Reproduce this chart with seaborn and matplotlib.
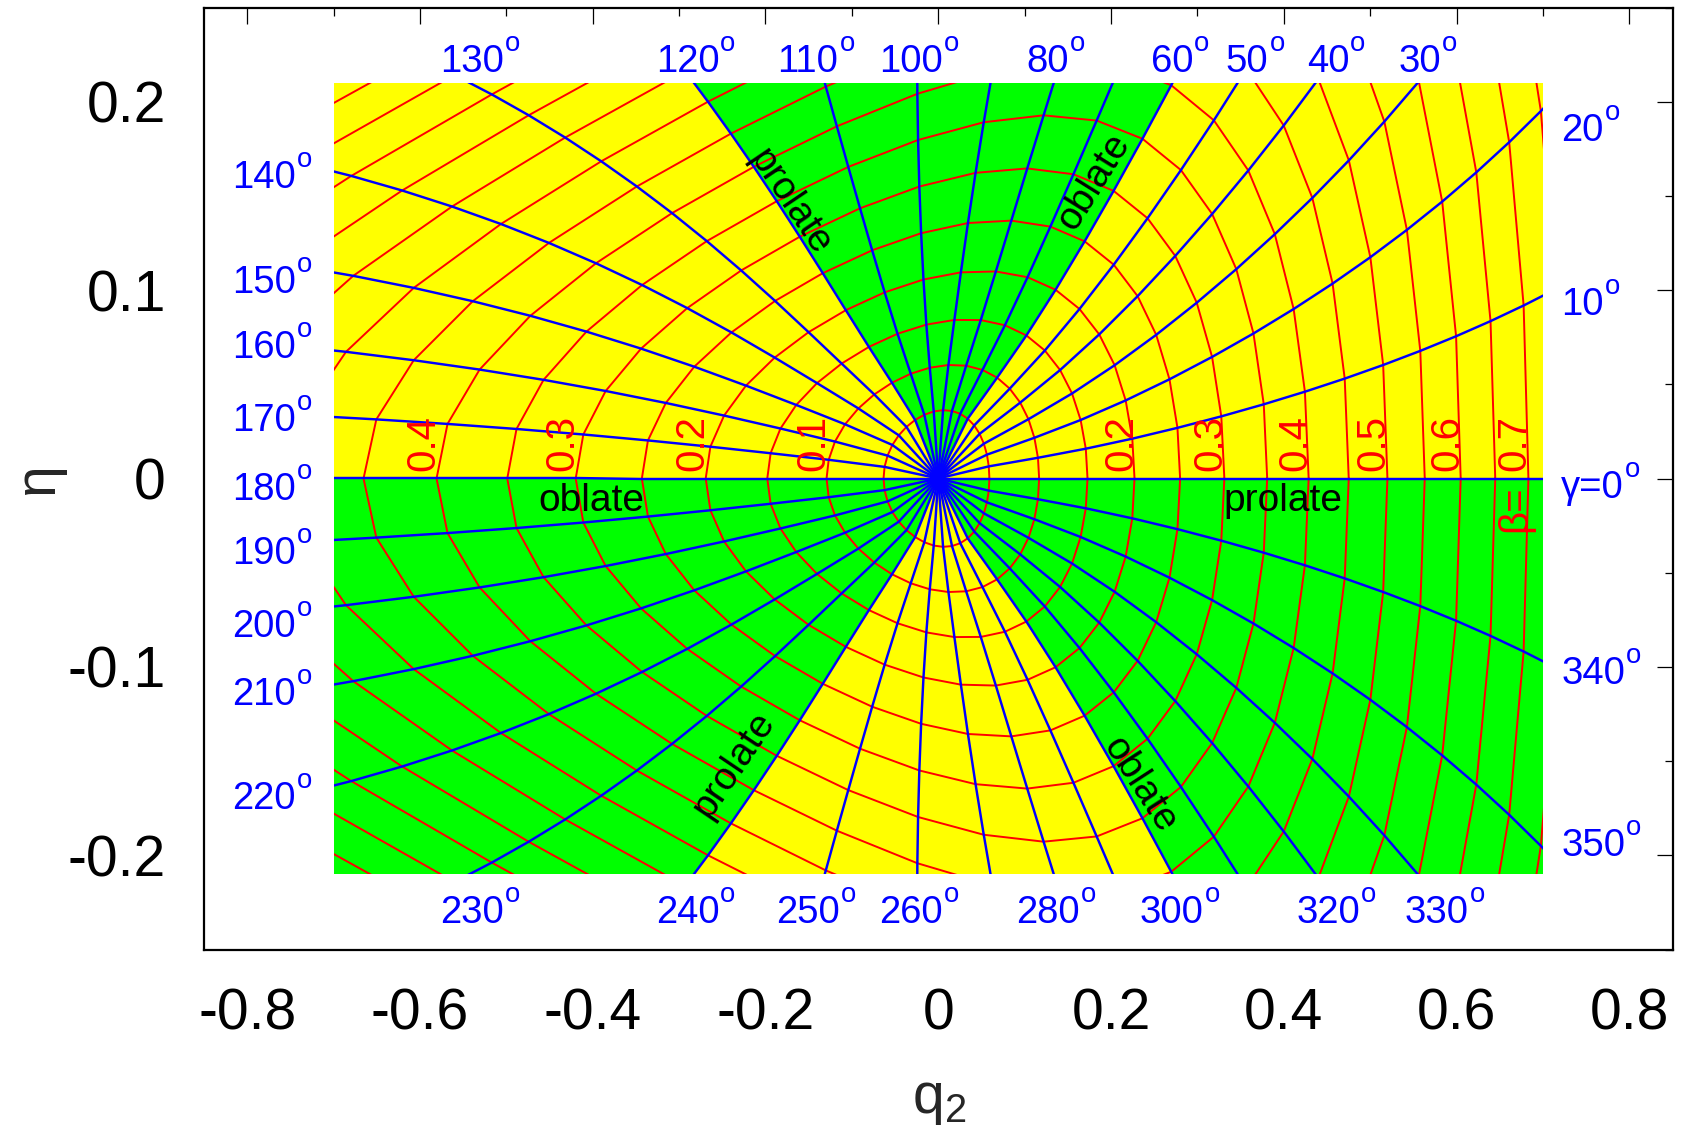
import numpy as np
import pandas as pd
import matplotlib
matplotlib.use("Agg")
import matplotlib.pyplot as plt
from matplotlib.patches import Rectangle, Polygon
import seaborn as sns

# ---------------- data ----------------
# Bohr deformation grid: beta every 0.05, gamma every 10 degrees
beta_levels = [0.05, 0.10, 0.15, 0.20, 0.25, 0.30, 0.35, 0.40,
               0.45, 0.50, 0.55, 0.60, 0.65, 0.70, 0.75]
gamma_levels = list(range(0, 360, 10))

# (beta, gamma) -> (q2, eta) correspondence
# q2 = beta * [c0 + c1 cos g + c2 cos 2g + beta (s0 + s1 cos g + s2 cos 2g + s3 cos 3g)]
q2_const = [0.0425, 1.22, -0.0625]
q2_slope = [-0.1475, 0.06, -0.2775, 0.045]
# eta = beta sin g [e0 + e1 beta cos g + e2 exp(-beta / e3)]
eta_coef = [0.54, 0.3125, 0.55, 0.046]

# gamma sectors shaded green
green_sectors = [(60, 120), (180, 240), (300, 360)]

# window of the map
q2_window = (-0.70, 0.70)
eta_window = (-0.21, 0.21)

# beta values written on the eta = 0 line
beta_labels_left = [0.1, 0.2, 0.3, 0.4]             # oblate side (gamma = 180)
beta_labels_right = [0.2, 0.3, 0.4, 0.5, 0.6, 0.7]  # prolate side (gamma = 0)

# gamma labels (text, q2 or eta of the label)
gamma_top = [("130", -0.5396), ("120", -0.2903), ("110", -0.1508), ("100", -0.0311),
             ("80", 0.1271), ("60", 0.2705), ("50", 0.3576), ("40", 0.4512), ("30", 0.5571)]
gamma_bottom = [("230", -0.5396), ("240", -0.2903), ("250", -0.1508), ("260", -0.0311),
                ("280", 0.1271), ("300", 0.2705), ("320", 0.4512), ("330", 0.577)]
gamma_left = [("140", 0.1612), ("150", 0.1058), ("160", 0.0712), ("170", 0.0325),
              ("180", -0.004), ("190", -0.0382), ("200", -0.0769), ("210", -0.1128),
              ("220", -0.1681)]
gamma_right = [("20", 0.1863), ("10", 0.094), ("\u03b3=0", -0.003), ("340", -0.1016),
               ("350", -0.1931)]

# shape names: (text, q2, eta, rotation)
shape_words = [("oblate", -0.4018, -0.0120, 0), ("prolate", 0.3994, -0.0120, 0),
               ("prolate", -0.172, 0.1464, -56), ("oblate", 0.1802, 0.1573, 58),
               ("prolate", -0.2368, -0.1521, 56), ("oblate", 0.2331, -0.1629, -57)]


def deform_to_q2eta(beta, gamma_deg):
    b = np.asarray(beta, dtype=float)
    g = np.radians(gamma_deg)
    c1, c2, c3 = np.cos(g), np.cos(2 * g), np.cos(3 * g)
    Q = (q2_const[0] + q2_const[1] * c1 + q2_const[2] * c2
         + b * (q2_slope[0] + q2_slope[1] * c1 + q2_slope[2] * c2 + q2_slope[3] * c3))
    E = eta_coef[0] + eta_coef[1] * b * c1 + eta_coef[2] * np.exp(-b / eta_coef[3])
    return b * Q, b * np.sin(g) * E


# ---------------- style ----------------
sns.set_theme(style="white")
plt.rcParams["font.family"] = ["Liberation Sans", "DejaVu Sans"]
plt.rcParams["axes.unicode_minus"] = False
plt.rcParams["mathtext.fontset"] = "custom"
plt.rcParams["mathtext.rm"] = "Liberation Sans"
plt.rcParams["mathtext.it"] = "Liberation Sans"

RED, BLUE, YELLOW, GREEN = "#ff0000", "#0000ff", "#ffff00", "#00ff00"
W, H = 1686, 1134
fig = plt.figure(figsize=(W / 100, H / 100), dpi=100)
ax = fig.add_axes([204 / W, 1 - 949.5 / H, 1468.5 / W, 942 / H])

clip = Rectangle((q2_window[0], eta_window[0]), q2_window[1] - q2_window[0],
                 eta_window[1] - eta_window[0], transform=ax.transData)

# background and shaded sectors
ax.add_patch(Rectangle((q2_window[0], eta_window[0]), q2_window[1] - q2_window[0],
                       eta_window[1] - eta_window[0], facecolor=YELLOW,
                       edgecolor="none", zorder=1))
beta_path = np.round(np.arange(0, 1.1001, 0.05), 2)
for g1, g2 in green_sectors:
    qa, ea = deform_to_q2eta(beta_path, g1)
    arc = np.linspace(g1, g2, 61)
    qc, ec = deform_to_q2eta(beta_path[-1], arc)
    qb, eb = deform_to_q2eta(beta_path[::-1], g2)
    verts = np.column_stack([np.r_[qa, qc, qb], np.r_[ea, ec, eb]])
    poly = Polygon(verts, closed=True, facecolor=GREEN, edgecolor="none", zorder=1.5)
    ax.add_patch(poly)
    poly.set_clip_path(clip)

# constant-beta curves
gam_loop = np.arange(0, 361, 10)
rows = []
for b in beta_levels:
    q, e = deform_to_q2eta(b, gam_loop)
    rows.append(pd.DataFrame({"beta": b, "q2": q, "eta": e}))
df_beta = pd.concat(rows, ignore_index=True)

# constant-gamma rays
rows = []
for g in gamma_levels:
    q, e = deform_to_q2eta(beta_path, g)
    rows.append(pd.DataFrame({"gamma": g, "q2": q, "eta": e}))
df_gamma = pd.concat(rows, ignore_index=True)

n0 = len(ax.lines)
sns.lineplot(data=df_beta, x="q2", y="eta", units="beta", estimator=None, sort=False,
             color=RED, linewidth=1.4, legend=False, ax=ax, zorder=2)
sns.lineplot(data=df_gamma, x="q2", y="eta", units="gamma", estimator=None, sort=False,
             color=BLUE, linewidth=1.75, legend=False, ax=ax, zorder=3)
for ln in ax.lines[n0:]:
    ln.set_clip_path(clip)
    ln.set_solid_joinstyle("round")

# ---------------- axes ----------------
ax.set_xlim(-0.85, 0.85)
ax.set_ylim(-0.25, 0.25)
ax.set_xticks(np.round(np.arange(-0.8, 0.81, 0.2), 1))
ax.set_xticks(np.round(np.arange(-0.8, 0.81, 0.1), 1), minor=True)
ax.set_yticks(np.round(np.arange(-0.2, 0.21, 0.1), 1))
ax.set_yticks(np.round(np.arange(-0.25, 0.251, 0.05), 2), minor=True)
ax.set_xticklabels(["-0.8", "-0.6", "-0.4", "-0.2", "0", "0.2", "0.4", "0.6", "0.8"])
ax.set_yticklabels(["-0.2", "-0.1", "0", "0.1", "0.2"])
ax.tick_params(which="both", direction="in", top=True, right=True, color="black",
               width=0.9, labelsize=41, labelcolor="black")
ax.tick_params(which="major", length=11.5)
ax.tick_params(which="minor", length=6)
ax.tick_params(axis="x", pad=27.5)
ax.tick_params(axis="y", pad=27.5)
for s in ax.spines.values():
    s.set_linewidth(1.6)
    s.set_color("black")
ax.set_xlabel("")
ax.set_ylabel("")

fig.text(938.7 / W, 1 - 1100 / H, r"q$_{\mathregular{2}}$", ha="center", va="center",
         fontsize=41)
fig.text(37.6 / W, 1 - 478.5 / H, "\u03b7", ha="center", va="center", fontsize=41,
         rotation=90)

# ---------------- labels ----------------
renderer = fig.canvas.get_renderer()
FS_G = 27.5


def degree_label(text, x, y, ha):
    # digits centred vertically on y; a raised 'o' follows as the degree mark
    t = ax.annotate(text, (x, y), xytext=(0, -0.358 * FS_G), textcoords="offset points",
                    ha=ha, va="baseline", color=BLUE, fontsize=FS_G, zorder=6,
                    annotation_clip=False)
    bb = t.get_window_extent(renderer)
    base_disp = ax.transData.transform((x, y))[1] - 0.358 * FS_G * 100 / 72
    fig.text((bb.x1 + 1) / W, (base_disp + 0.55 * FS_G * 100 / 72) / H, "o",
             ha="left", va="baseline", color=BLUE, fontsize=0.72 * FS_G, zorder=6)


for txt, x in gamma_top:
    degree_label(txt, x, 0.2228, "center")
for txt, x in gamma_bottom:
    degree_label(txt, x, -0.2285, "center")
for txt, y in gamma_left:
    degree_label(txt, -0.7436, y, "right")
for txt, y in gamma_right:
    degree_label(txt, 0.7211, y, "left")

FS_B = 29
for b in beta_labels_left:
    q, _ = deform_to_q2eta(b, 180)
    ax.text(q - 0.003, 0.004, f"{b:.1f}", rotation=90, rotation_mode="anchor",
            ha="left", va="baseline", color=RED, fontsize=FS_B, zorder=5)
for b in beta_labels_right:
    q, _ = deform_to_q2eta(b, 0)
    ax.text(q - 0.003, 0.004, f"{b:.1f}", rotation=90, rotation_mode="anchor",
            ha="left", va="baseline", color=RED, fontsize=FS_B, zorder=5)
q, _ = deform_to_q2eta(beta_labels_right[-1], 0)
ax.text(q - 0.003, -0.0035, "\u03b2=", rotation=90, rotation_mode="anchor",
        ha="right", va="baseline", color=RED, fontsize=FS_B, zorder=5)

for txt, x, y, rot in shape_words:
    ax.text(x, y, txt, rotation=rot, rotation_mode="anchor", ha="center", va="center",
            color="black", fontsize=28, zorder=5)

fig.savefig("out.png", dpi=100, facecolor="white")
